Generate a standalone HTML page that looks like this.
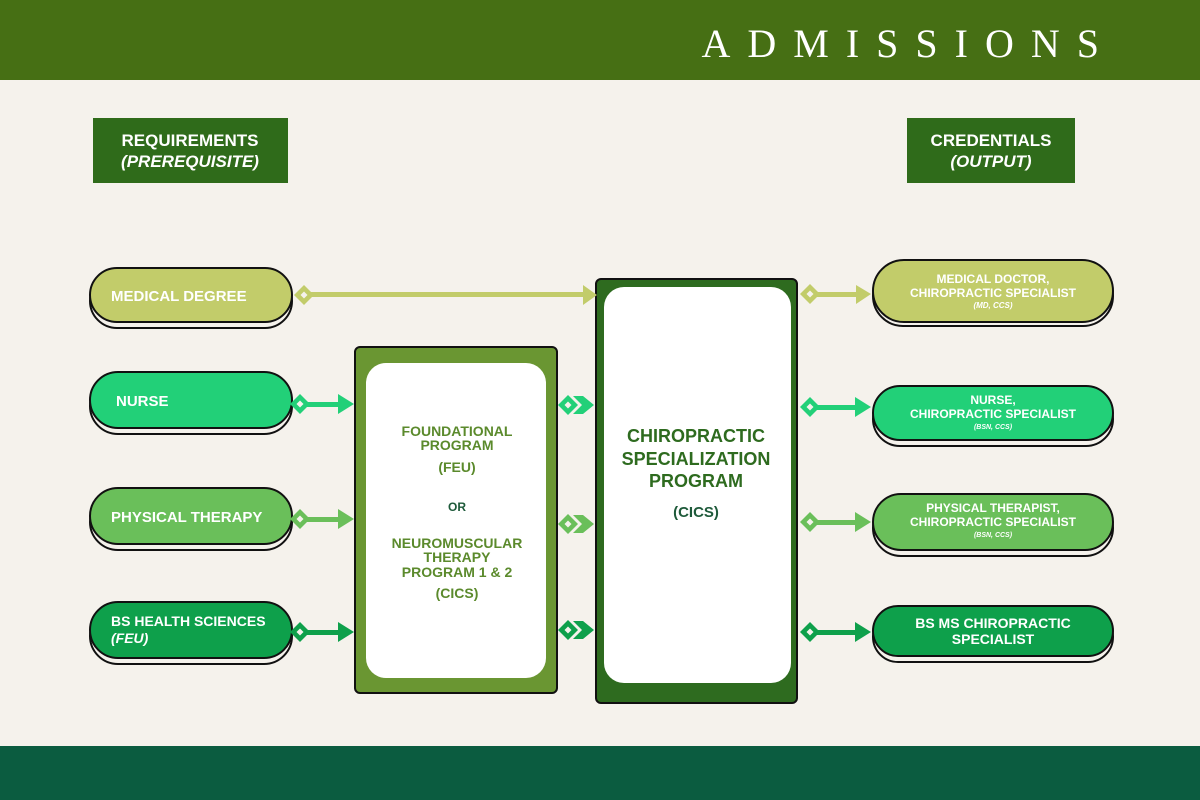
<!DOCTYPE html>
<html><head><meta charset="utf-8"><style>
body{margin:0;width:1200px;height:800px;overflow:hidden;background:#f5f2ec}
svg{display:block}
text{font-family:"Liberation Sans",sans-serif;font-weight:bold}
</style></head><body>
<svg width="1200" height="800" viewBox="0 0 1200 800">
<rect width="1200" height="800" fill="#f5f2ec"/>
<rect width="1200" height="80" fill="#466f14"/>
<text x="1116" y="57" text-anchor="end" fill="#fff" font-size="40" letter-spacing="17" style="font-family:'Liberation Serif',serif;font-weight:normal">ADMISSIONS</text>
<rect y="746" width="1200" height="54" fill="#0b5c40"/>

<rect x="93" y="118" width="195" height="65" fill="#2f6b1a"/>
<text x="190" y="146" text-anchor="middle" fill="#fff" font-size="17">REQUIREMENTS</text>
<text x="190" y="167" text-anchor="middle" fill="#fff" font-size="17" font-style="italic">(PREREQUISITE)</text>
<rect x="907" y="118" width="168" height="65" fill="#2f6b1a"/>
<text x="991" y="146" text-anchor="middle" fill="#fff" font-size="17">CREDENTIALS</text>
<text x="991" y="167" text-anchor="middle" fill="#fff" font-size="17" font-style="italic">(OUTPUT)</text>

<g stroke="#111" stroke-width="2">
<rect x="90" y="274" width="202" height="54" rx="27" fill="#f5f2ec"/>
<rect x="90" y="268" width="202" height="54" rx="27" fill="#c2cc6a"/>
<rect x="90" y="378" width="202" height="56" rx="28" fill="#f5f2ec"/>
<rect x="90" y="372" width="202" height="56" rx="28" fill="#22d078"/>
<rect x="90" y="494" width="202" height="56" rx="28" fill="#f5f2ec"/>
<rect x="90" y="488" width="202" height="56" rx="28" fill="#6abf5a"/>
<rect x="90" y="608" width="202" height="56" rx="28" fill="#f5f2ec"/>
<rect x="90" y="602" width="202" height="56" rx="28" fill="#0ea04b"/>
<rect x="873" y="266" width="240" height="60" rx="30" fill="#f5f2ec"/>
<rect x="873" y="260" width="240" height="62" rx="31" fill="#c2cc6a"/>
<rect x="873" y="392" width="240" height="54" rx="27" fill="#f5f2ec"/>
<rect x="873" y="386" width="240" height="54" rx="27" fill="#22d078"/>
<rect x="873" y="500" width="240" height="56" rx="28" fill="#f5f2ec"/>
<rect x="873" y="494" width="240" height="56" rx="28" fill="#6abf5a"/>
<rect x="873" y="612" width="240" height="50" rx="25" fill="#f5f2ec"/>
<rect x="873" y="606" width="240" height="50" rx="25" fill="#0ea04b"/>
</g>
<g fill="#fff">
<text x="111" y="301" font-size="15">MEDICAL DEGREE</text>
<text x="116" y="406" font-size="15">NURSE</text>
<text x="111" y="522" font-size="15">PHYSICAL THERAPY</text>
<text x="111" y="626" font-size="14">BS HEALTH SCIENCES</text>
<text x="111" y="643" font-size="14" font-style="italic">(FEU)</text>
<g text-anchor="middle">
<text x="993" y="283" font-size="12">MEDICAL DOCTOR,</text>
<text x="993" y="297" font-size="12">CHIROPRACTIC SPECIALIST</text>
<text x="993" y="308" font-size="8" font-style="italic">(MD, CCS)</text>
<text x="993" y="404" font-size="12">NURSE,</text>
<text x="993" y="418" font-size="12">CHIROPRACTIC SPECIALIST</text>
<text x="993" y="429" font-size="7" font-style="italic">(BSN, CCS)</text>
<text x="993" y="512" font-size="12">PHYSICAL THERAPIST,</text>
<text x="993" y="526" font-size="12">CHIROPRACTIC SPECIALIST</text>
<text x="993" y="537" font-size="7" font-style="italic">(BSN, CCS)</text>
<text x="993" y="628" font-size="14">BS MS CHIROPRACTIC</text>
<text x="993" y="644" font-size="14">SPECIALIST</text>
</g></g>

<rect x="355" y="347" width="202" height="346" rx="5" fill="#6a9632" stroke="#111" stroke-width="2"/>
<rect x="366" y="363" width="180" height="315" rx="20" fill="#fff"/>
<rect x="596" y="279" width="201" height="424" rx="5" fill="#2e6b1f" stroke="#111" stroke-width="2"/>
<rect x="604" y="287" width="187" height="396" rx="20" fill="#fff"/>
<g text-anchor="middle" font-size="14" fill="#5b8a2c">
<text x="457" y="436" fill="#5b8a2c">FOUNDATIONAL</text>
<text x="457" y="450" fill="#5b8a2c">PROGRAM</text>
<text x="457" y="472" fill="#5b8a2c">(FEU)</text>
<text x="457" y="511" font-size="12" fill="#1e5a3a">OR</text>
<text x="457" y="548" fill="#5b8a2c">NEUROMUSCULAR</text>
<text x="457" y="562" fill="#5b8a2c">THERAPY</text>
<text x="457" y="577" fill="#5b8a2c">PROGRAM 1 &amp; 2</text>
<text x="457" y="598" fill="#5b8a2c">(CICS)</text>
</g>
<g text-anchor="middle" font-size="18" fill="#2e6b1f">
<text x="696" y="442">CHIROPRACTIC</text>
<text x="696" y="465">SPECIALIZATION</text>
<text x="696" y="487">PROGRAM</text>
<text x="696" y="517" font-size="15" fill="#1e5a3a">(CICS)</text>
</g>

<defs>
<g id="dm"><path d="M-10 0 L0 -10 L10 0 L0 10Z"/><path d="M-3.5 0 L0 -3.5 L3.5 0 L0 3.5Z" fill="#f5f2ec"/></g>
</defs>
<g fill="#c2cc6a" stroke="none">
<rect x="305" y="292" width="280" height="5"/><path d="M583 285 L597 295 L583 305Z"/>
<use href="#dm" x="304" y="295"/>
<rect x="810" y="292" width="48" height="5"/><path d="M856 285 L871 294 L856 304Z"/>
<use href="#dm" x="810" y="294"/>
</g>
<g fill="#22d078">
<rect x="300" y="402" width="42" height="5"/><path d="M338 394 L354 404 L338 414Z"/><use href="#dm" x="300" y="404"/>
<path d="M573 396 L583 396 L594 405 L583 414 L573 414 L582 405Z"/><use href="#dm" x="568" y="405"/>
<rect x="810" y="405" width="48" height="5"/><path d="M855 397 L871 407 L855 417Z"/><use href="#dm" x="810" y="407"/>
</g>
<g fill="#6abf5a">
<rect x="300" y="517" width="42" height="5"/><path d="M338 509 L354 519 L338 529Z"/><use href="#dm" x="300" y="519"/>
<path d="M573 515 L583 515 L594 524 L583 533 L573 533 L582 524Z"/><use href="#dm" x="568" y="524"/>
<rect x="810" y="520" width="48" height="5"/><path d="M855 512 L871 522 L855 532Z"/><use href="#dm" x="810" y="522"/>
</g>
<g fill="#0ea04b">
<rect x="300" y="630" width="42" height="5"/><path d="M338 622 L354 632 L338 642Z"/><use href="#dm" x="300" y="632"/>
<path d="M573 621 L583 621 L594 630 L583 639 L573 639 L582 630Z"/><use href="#dm" x="568" y="630"/>
<rect x="810" y="630" width="48" height="5"/><path d="M855 622 L871 632 L855 642Z"/><use href="#dm" x="810" y="632"/>
</g>
</svg>
</body></html>
